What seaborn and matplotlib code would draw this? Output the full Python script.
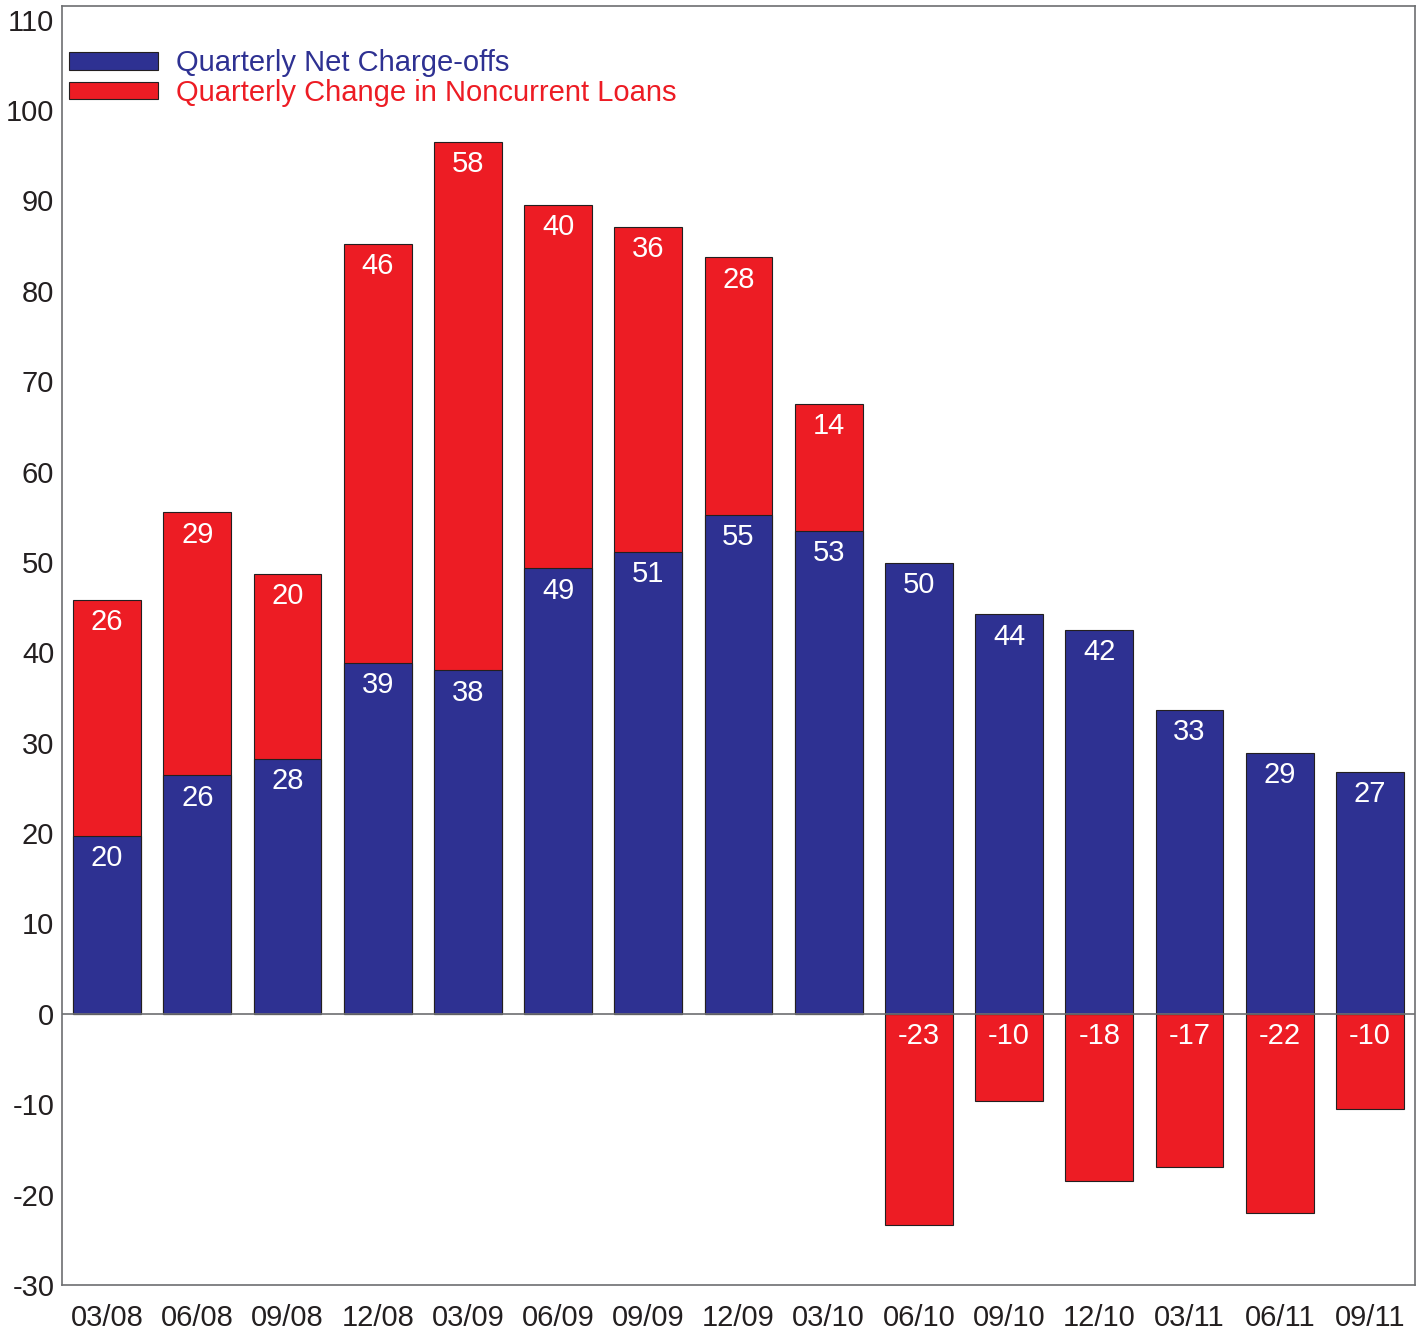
import numpy as np
import pandas as pd
import matplotlib
matplotlib.use("Agg")
import matplotlib.pyplot as plt
import seaborn as sns
from matplotlib.patches import Patch

quarters = ["03/08", "06/08", "09/08", "12/08", "03/09", "06/09", "09/09", "12/09",
            "03/10", "06/10", "09/10", "12/10", "03/11", "06/11", "09/11"]
net_chargeoffs = [19.7, 26.4, 28.2, 38.8, 38.0, 49.3, 51.1, 55.2,
                  53.4, 49.9, 44.2, 42.5, 33.6, 28.9, 26.8]
noncurrent_change = [26.1, 29.1, 20.5, 46.4, 58.5, 40.2, 36.0, 28.5,
                     14.1, -23.4, -9.6, -18.5, -16.9, -22.0, -10.5]
chargeoff_labels = ["20", "26", "28", "39", "38", "49", "51", "55",
                    "53", "50", "44", "42", "33", "29", "27"]
noncurrent_labels = ["26", "29", "20", "46", "58", "40", "36", "28",
                     "14", "-23", "-10", "-18", "-17", "-22", "-10"]
yticks = list(range(-30, 111, 10))

BLUE = "#2E3192"
RED = "#ED1C24"
TXT = "#231F20"
GRAY = "#6D6E71"

sns.set_theme(style="white")
plt.rcParams['font.family'] = ['Liberation Sans', 'DejaVu Sans']

blue = np.array(net_chargeoffs)
red = np.array(noncurrent_change)
red_top = np.where(red > 0, blue + red, red)

df = pd.DataFrame({"q": quarters, "blue": blue, "red": red_top})

fig = plt.figure(figsize=(14.22, 13.31), dpi=100)
ax = fig.add_axes([62/1422, 46/1331, (1415-62)/1422, (1285-6)/1331])

sns.barplot(data=df, x="q", y="red", color=RED, saturation=1, width=0.75,
            edgecolor="#231F20", linewidth=0.8, ax=ax, zorder=2)
sns.barplot(data=df, x="q", y="blue", color=BLUE, saturation=1, width=0.75,
            edgecolor="#231F20", linewidth=0.8, ax=ax, zorder=3)

ax.axhline(0, color=GRAY, lw=1.2, zorder=4)

for i in range(len(quarters)):
    ax.annotate(chargeoff_labels[i], (i, blue[i]), xytext=(0, -6), textcoords="offset points",
                ha="center", va="top", color="white", fontsize=21, zorder=5)
    top = red_top[i] if red[i] > 0 else 0
    ax.annotate(noncurrent_labels[i], (i, top), xytext=(0, -6), textcoords="offset points",
                ha="center", va="top", color="white", fontsize=21, zorder=5)

ax.set_xlim(-0.5, 14.5)
ax.set_ylim(-30, 111.5)
ax.set_yticks(yticks)
ax.set_yticklabels([str(t) for t in yticks])
ax.set_xlabel("")
ax.set_ylabel("")
ax.tick_params(axis="both", length=0, labelsize=21, labelcolor=TXT)
ax.tick_params(axis="y", pad=5.5)
ax.tick_params(axis="x", pad=14)
for s in ax.spines.values():
    s.set_visible(True)
    s.set_color(GRAY)
    s.set_linewidth(1.2)

handles = [Patch(facecolor=BLUE, edgecolor="#231F20", linewidth=0.8),
           Patch(facecolor=RED, edgecolor="#231F20", linewidth=0.8)]
leg = ax.legend(handles, ["Quarterly Net Charge-offs", "Quarterly Change in Noncurrent Loans"],
                loc="upper left", bbox_to_anchor=(0.005, 0.966), frameon=False,
                fontsize=21, handlelength=3.05, handleheight=0.55, handletextpad=0.62,
                labelspacing=0.05, borderaxespad=0.0, borderpad=0.0, labelcolor=[BLUE, RED])

fig.savefig("out.png", dpi=100)
